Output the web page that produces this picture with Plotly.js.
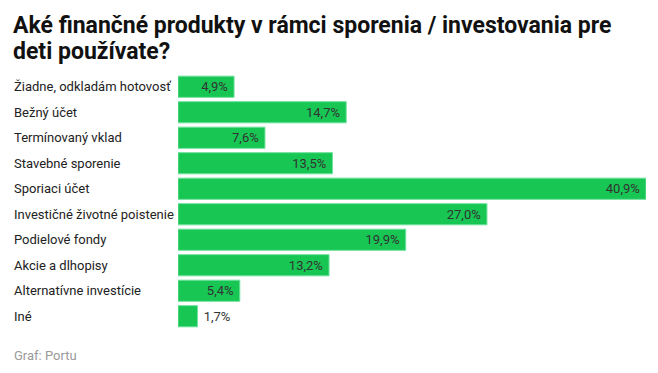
<!DOCTYPE html>
<html><head><meta charset="utf-8">
<script src="https://cdn.plot.ly/plotly-3.0.1.min.js"></script>
<style>html,body{margin:0;padding:0;background:#fff}#c{width:658px;height:373px}</style>
</head><body><div id="c"></div>
<script>
const titleLines = ["Aké finančné produkty v rámci sporenia / investovania pre", "deti používate?"];
const categories = ["Žiadne, odkladám hotovosť","Bežný účet","Termínovaný vklad","Stavebné sporenie","Sporiaci účet","Investičné životné poistenie","Podielové fondy","Akcie a dlhopisy","Alternatívne investície","Iné"];
const values = [4.9,14.7,7.6,13.5,40.9,27.0,19.9,13.2,5.4,1.7];
const labels = values.map(v => '\u00a0' + v.toFixed(1).replace('.', ',') + '%\u00a0');
const source = "Graf: Portu";

const font = 'Roboto, "Open Sans", sans-serif';
const L = 178, R = 12, T = 74, B = 44, W = 658, H = 373;
const pw = W - L - R, ph = H - T - B;
const px = x => (x - L) / pw;
const py = y => 1 - (y - T) / ph;

const annotations = categories.map(c => ({
  xref: 'paper', yref: 'y', x: px(12), y: c, xanchor: 'left', yanchor: 'middle',
  text: c, showarrow: false, font: {family: font, size: 13, color: '#222'}
}));
annotations.push({xref:'paper', yref:'paper', x:px(12), y:py(355), xanchor:'left', yanchor:'middle', text:source, showarrow:false, font:{family:font, size:13, color:'#9a9a9a'}});
[25, 51].forEach((yy, i) => annotations.push({
  xref:'paper', yref:'paper', x:px(11), y:py(yy), xanchor:'left', yanchor:'middle',
  text: titleLines[i], showarrow:false, font:{family:font, size:23, color:'#111', weight:'bold'}
}));

Plotly.newPlot('c', [{
  type: 'bar', orientation: 'h', y: categories, x: values, text: labels,
  textposition: 'auto', insidetextanchor: 'end', cliponaxis: false,
  textfont: {family: font, size: 13, color: '#333'},
  insidetextfont: {family: font, size: 13, color: '#333'},
  outsidetextfont: {family: font, size: 13, color: '#333'},
  marker: {color: '#17c653', line: {color: '#6ee29c', width: 1}},
  hoverinfo: 'none'
}], {
  width: W, height: H,
  margin: {l: L, r: R, t: T, b: B},
  paper_bgcolor: '#fff', plot_bgcolor: '#fff',
  bargap: 0.17,
  xaxis: {range: [0, 40.9], showgrid: false, zeroline: false, showticklabels: false, fixedrange: true},
  yaxis: {autorange: 'reversed', showticklabels: false, showgrid: false, zeroline: false, fixedrange: true},
  annotations: annotations,
  showlegend: false
}, {displayModeBar: false, staticPlot: true});
</script></body></html>
